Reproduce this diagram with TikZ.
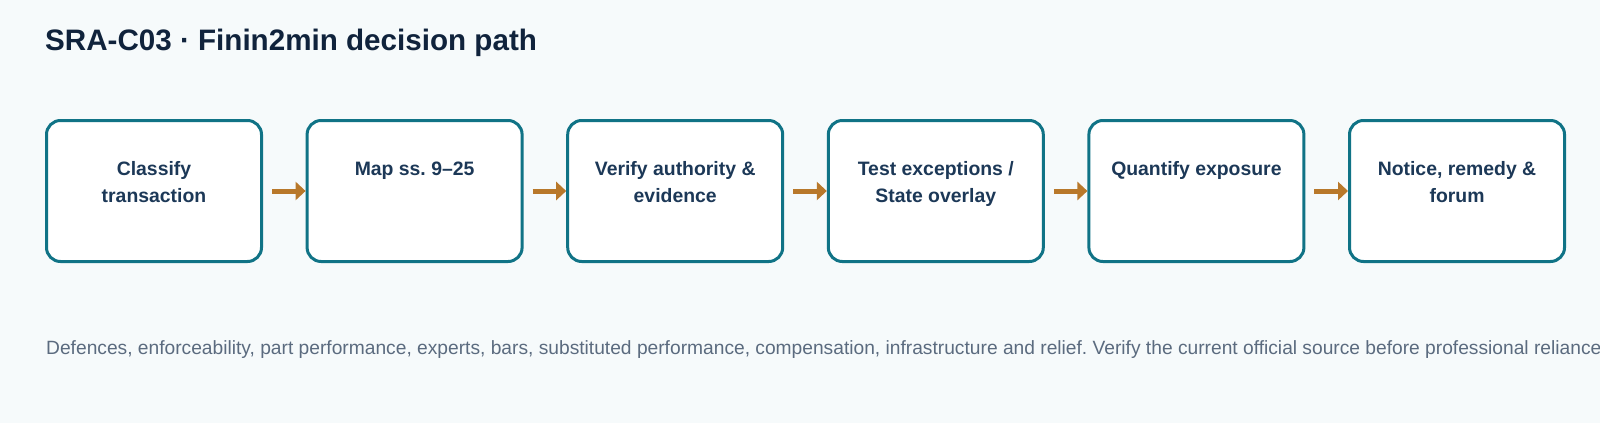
\documentclass[tikz,border=0pt]{standalone}
\usepackage{fontspec}
\setmainfont{Liberation Sans}
\usetikzlibrary{arrows.meta}
\frenchspacing
\definecolor{bgc}{HTML}{F6FAFB}
\definecolor{boxline}{HTML}{107386}
\definecolor{boxtext}{HTML}{1C3857}
\definecolor{titlec}{HTML}{10233C}
\definecolor{footc}{HTML}{5B6B7F}
\definecolor{arrc}{HTML}{B8782A}
\tikzset{
  stepbox/.style={draw=boxline, line width=3pt, fill=white, rounded corners=14pt,
    minimum width=215pt, minimum height=141pt, inner sep=0pt},
  steptext/.style={anchor=north, inner sep=0pt, align=center, text=boxtext,
    font=\fontsize{19.4}{27.7}\selectfont\bfseries},
  flowarr/.style={draw=arrc, line width=5pt, -{Triangle[length=10pt,width=18pt]}, shorten <=9pt},
}
\begin{document}
\begin{tikzpicture}[x=1pt,y=-1pt]
  \fill[bgc] (0,0) rectangle (1600,423);
  \useasboundingbox (0,0) rectangle (1600,423);
  \clip (0,0) rectangle (1600,423);
  \node[anchor=base west, inner sep=0pt, text=titlec, font=\fontsize{29.6}{34}\selectfont\bfseries]
    (title) at (45,50.5) {SRA-C03 · Finin2min decision path};
  \foreach \i/\t in {1/{Classify\\transaction},2/{Map ss. 9–25},3/{Verify authority \&\\evidence},
      4/{Test exceptions /\\State overlay},5/{Quantify exposure},6/{Notice, remedy \&\\forum}}{
    \node[stepbox] (b\i) at ({154+260.6*(\i-1)},191) {};
    \node[steptext] (t\i) at ({154+260.6*(\i-1)},160) {\rule{0pt}{15pt}\t};
  }
  \foreach \a/\b in {1/2,2/3,3/4,4/5,5/6}{
    \draw[flowarr] (b\a.east) -- (b\b.west);
  }
  \node[anchor=base west, inner sep=0pt, text=footc, font=\fontsize{19.2}{23}\selectfont]
    (foot) at (46,354) {Defences, enforceability, part performance, experts, bars, substituted performance, compensation, infrastructure and relief. Verify the current official source before professional reliance.};
\end{tikzpicture}
\end{document}
